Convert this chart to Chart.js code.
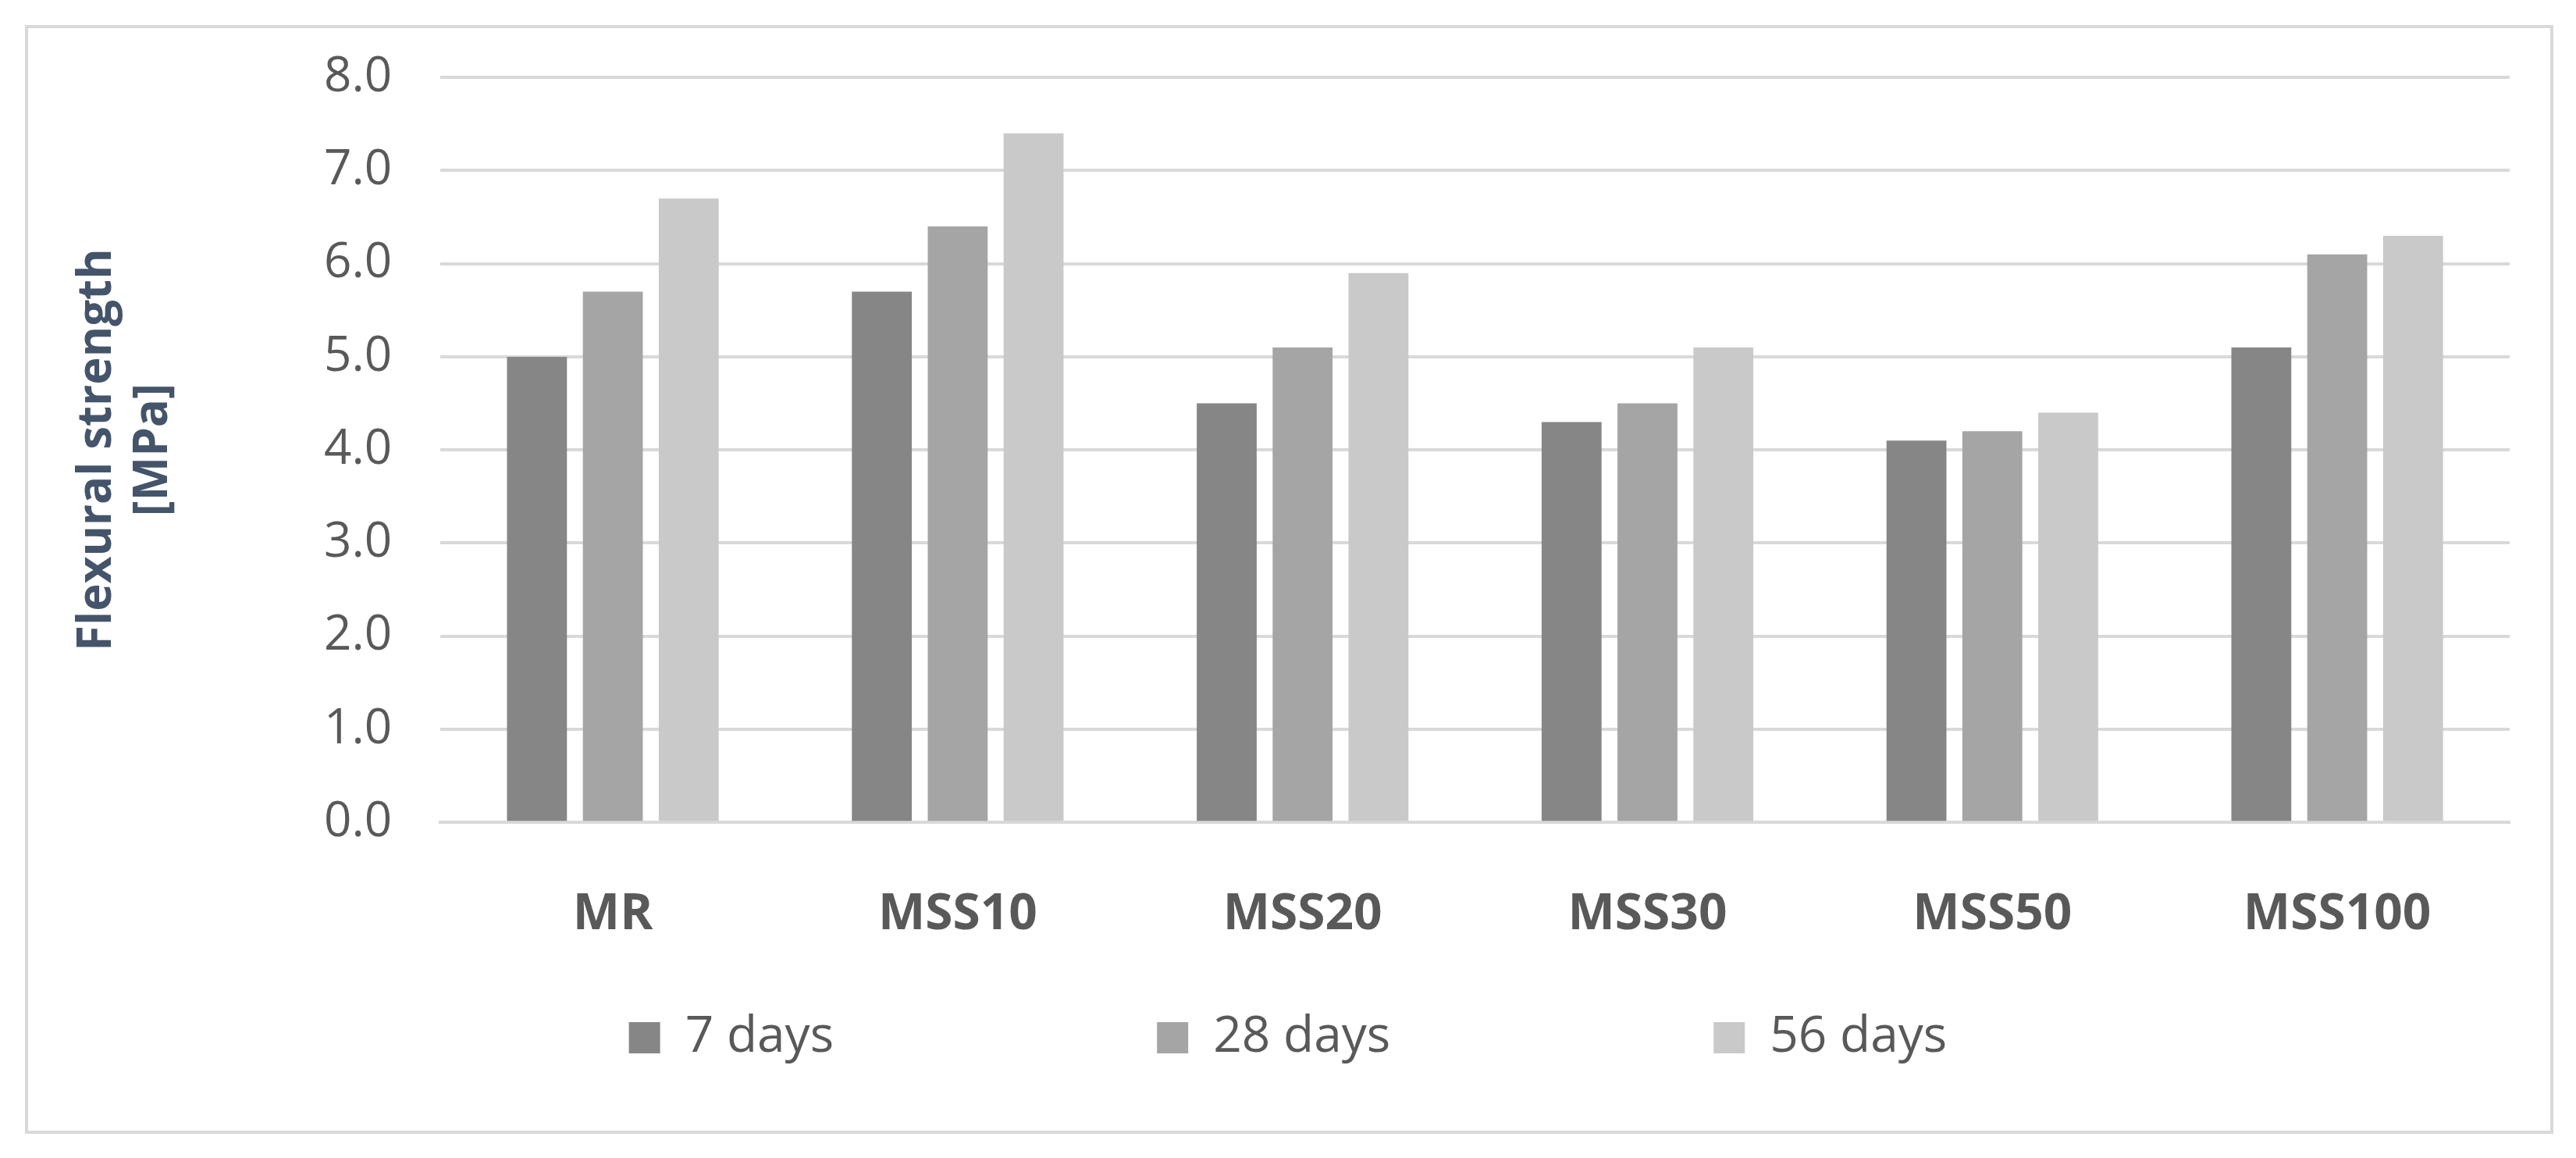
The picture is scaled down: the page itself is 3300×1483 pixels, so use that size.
<!DOCTYPE html>
<html><head><meta charset="utf-8">
<script src="https://cdn.jsdelivr.net/npm/chart.js@4"></script>
<style>
body{margin:0;background:#fff;}
#frame{position:absolute;left:32px;top:32px;width:3231px;height:1412px;border:4px solid #d9d9d9;}
#wrap{position:absolute;left:0;top:0;width:3300px;height:1483px;}
</style></head>
<body>
<div id="frame"></div>
<div id="wrap"><canvas id="c"></canvas></div>
<script>
const categories = ['MR','MSS10','MSS20','MSS30','MSS50','MSS100'];
const days7  = [5.0, 5.7, 4.5, 4.3, 4.1, 5.1];
const days28 = [5.7, 6.4, 5.1, 4.5, 4.2, 6.1];
const days56 = [6.7, 7.4, 5.9, 5.1, 4.4, 6.3];

const font = '"Open Sans", "Noto Sans", sans-serif';
const legendGap = ' '.repeat(24);

new Chart(document.getElementById('c'), {
  type: 'bar',
  data: {
    labels: categories,
    datasets: [
      { label: '7 days',  data: days7,  backgroundColor: '#868686' },
      { label: '28 days', data: days28, backgroundColor: '#a5a5a5' },
      { label: '56 days', data: days56, backgroundColor: '#c9c9c9' }
    ]
  },
  options: {
    responsive: true,
    maintainAspectRatio: false,
    animation: false,
    categoryPercentage: 0.66,
    barPercentage: 0.79,
    layout: { padding: { left: 85, right: 85, top: 81, bottom: 112 } },
    plugins: {
      legend: {
        position: 'bottom',
        labels: {
          color: '#595959', font: { family: font, size: 64 }, boxWidth: 40, boxHeight: 40, padding: 15,
          generateLabels(chart) {
            const items = Chart.defaults.plugins.legend.labels.generateLabels(chart);
            items.forEach((it, i) => { if (i < items.length - 1) it.text += legendGap; });
            return items;
          }
        }
      },
      tooltip: { enabled: false }
    },
    scales: {
      x: {
        grid: { display: false },
        border: { color: '#d9d9d9', width: 4 },
        ticks: { color: '#595959', font: { family: font, size: 64, weight: 'bold' }, padding: 72 }
      },
      y: {
        min: 0, max: 8,
        ticks: { stepSize: 1, color: '#595959', font: { family: font, size: 62 }, padding: 62, callback: v => v.toFixed(1) },
        grid: { color: '#d9d9d9', lineWidth: 4, drawTicks: false },
        border: { display: false },
        title: { display: true, text: ['Flexural strength', '[MPa]'], color: '#44546a', font: { family: font, size: 60, weight: 'bold' }, padding: { bottom: 120 } }
      }
    }
  }
});
</script>
</body></html>
